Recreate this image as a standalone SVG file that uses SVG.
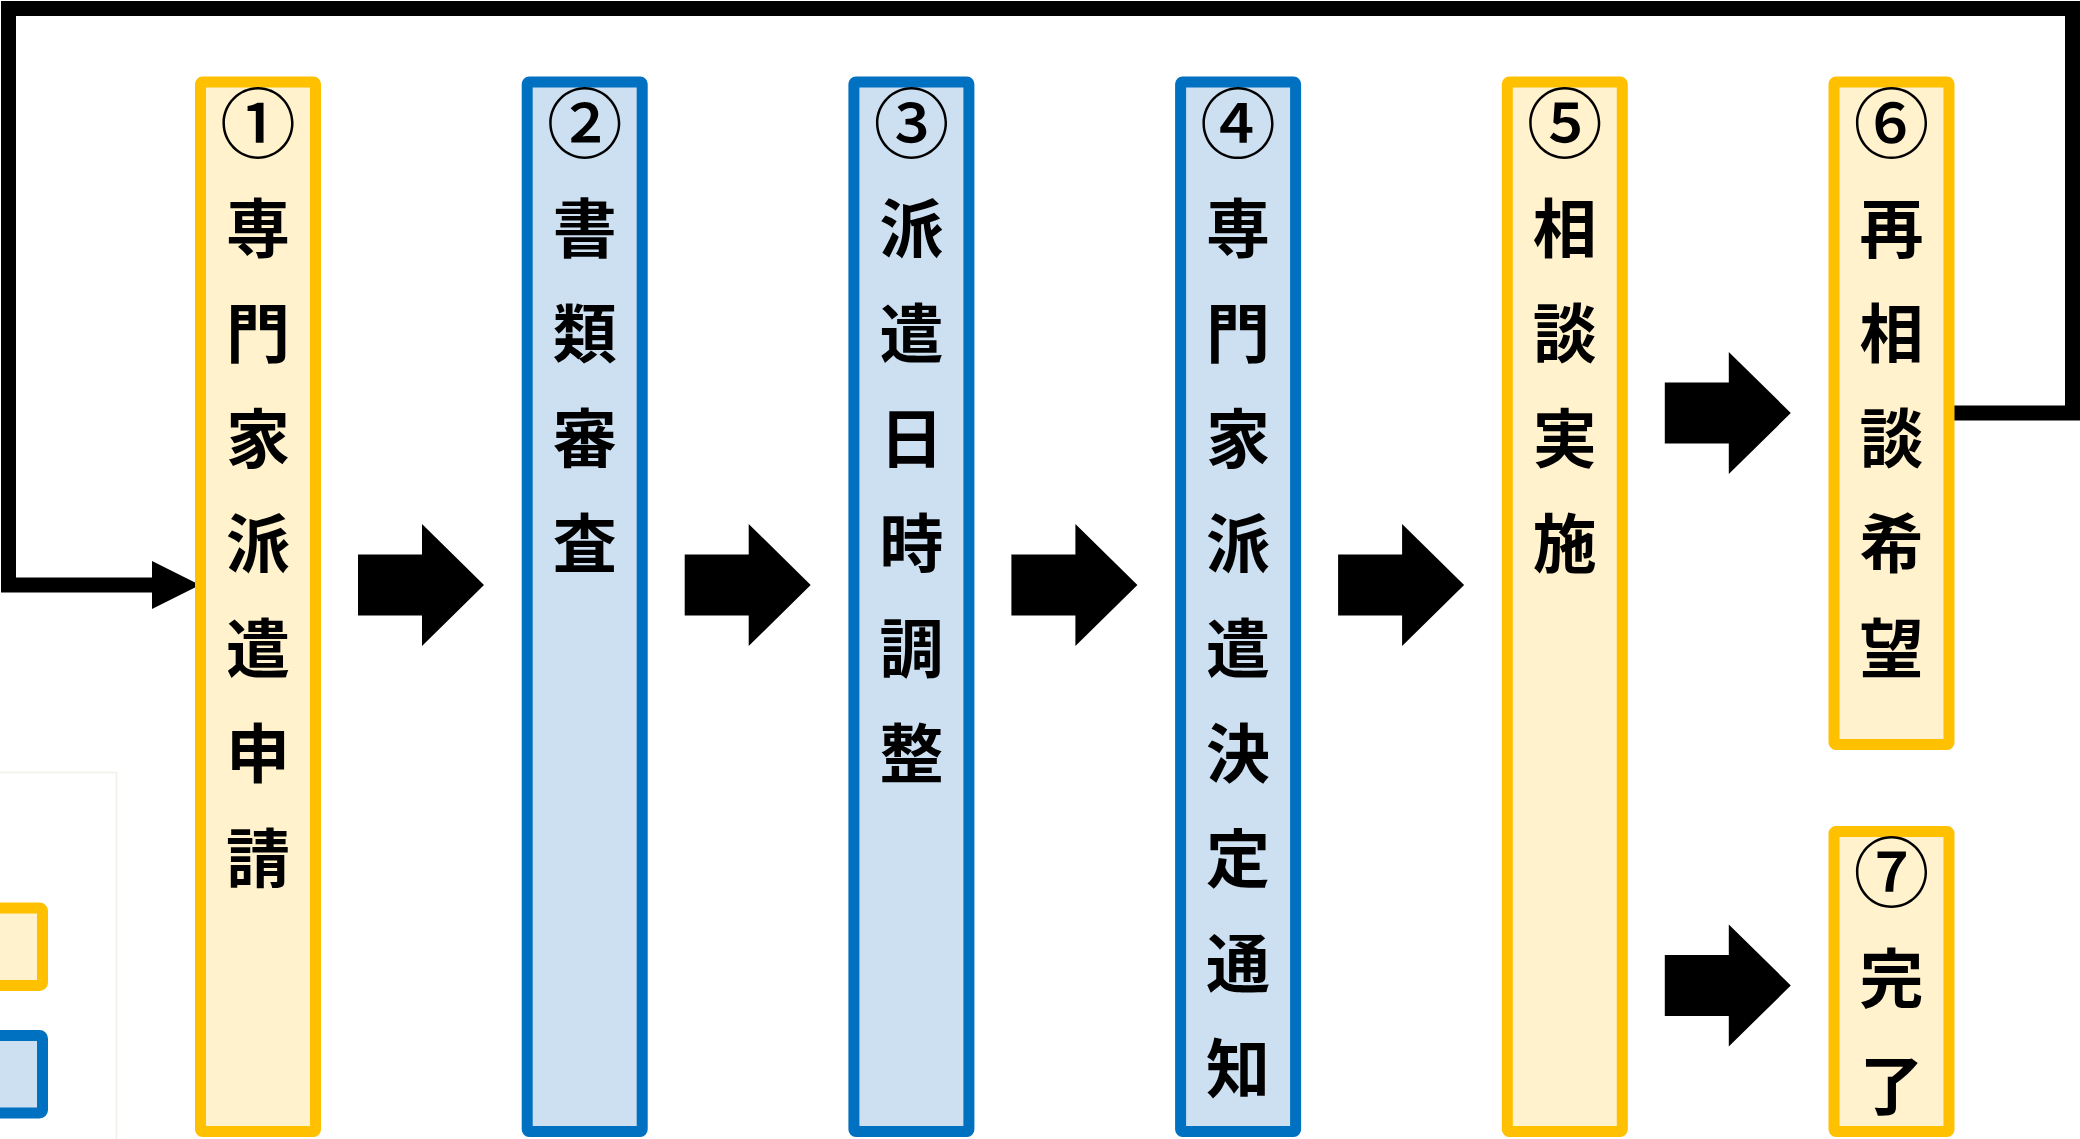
<svg xmlns="http://www.w3.org/2000/svg" xmlns:xlink="http://www.w3.org/1999/xlink" width="2080" height="1139" viewBox="0 0 2080 1139">
<style>
.y{fill:#FFF2CC;stroke:#FFC000;stroke-width:11;stroke-linejoin:round}
.b{fill:#CCE0F2;stroke:#0070C0;stroke-width:11;stroke-linejoin:round}
.t{font-family:"Noto Sans CJK JP","Noto Sans CJK SC",sans-serif;font-weight:700;font-size:64px;fill:#000;text-anchor:middle}
.c{font-family:"Noto Sans CJK JP","Noto Sans CJK SC",sans-serif;font-weight:500;font-size:76px;fill:#000;text-anchor:middle}
.ar{fill:#000}
</style>
<defs>
<polygon id="blk" points="0,-30.5 64,-30.5 64,-61 126,0 64,61 64,30.5 0,30.5"/>
</defs>
<rect width="2080" height="1139" fill="#fff"/>
<g id="legend">
<rect x="-10" y="772.5" width="126.5" height="380" fill="none" stroke="#EEF3EA" stroke-width="1.5"/>
<rect class="y" x="-30" y="908" width="72.5" height="77.5" rx="3"/>
<rect class="b" x="-30" y="1035.5" width="72.5" height="77.5" rx="3"/>
</g>
<g id="connectors">
<path d="M1949 413 H2072.5 V8.5 H8.5 V585 H160" fill="none" stroke="#000" stroke-width="15" stroke-linejoin="miter"/>
<polygon class="ar" points="152,561 200,585 152,609"/>
<use xlink:href="#blk" href="#blk" x="358" y="585" class="ar"/>
<use xlink:href="#blk" href="#blk" x="684.7" y="585" class="ar"/>
<use xlink:href="#blk" href="#blk" x="1011.4" y="585" class="ar"/>
<use xlink:href="#blk" href="#blk" x="1338.1" y="585" class="ar"/>
<use xlink:href="#blk" href="#blk" x="1664.8" y="413" class="ar"/>
<use xlink:href="#blk" href="#blk" x="1664.8" y="985.5" class="ar"/>
</g>
<g id="n1">
<rect class="y" x="200.5" y="82" width="115" height="1049.5" rx="2"/>
<text class="c" x="258" y="151.5">①</text>
<text class="t" x="258" y="252.3">専<tspan x="258" dy="105">門</tspan><tspan x="258" dy="105">家</tspan><tspan x="258" dy="105">派</tspan><tspan x="258" dy="105">遣</tspan><tspan x="258" dy="105">申</tspan><tspan x="258" dy="105">請</tspan></text>
</g>
<g id="n2">
<rect class="b" x="527.2" y="82" width="115" height="1049.5" rx="2"/>
<text class="c" x="584.7" y="151.5">②</text>
<text class="t" x="584.7" y="252.3">書<tspan x="584.7" dy="105">類</tspan><tspan x="584.7" dy="105">審</tspan><tspan x="584.7" dy="105">査</tspan></text>
</g>
<g id="n3">
<rect class="b" x="853.9" y="82" width="115" height="1049.5" rx="2"/>
<text class="c" x="911.4" y="151.5">③</text>
<text class="t" x="911.4" y="252.3">派<tspan x="911.4" dy="105">遣</tspan><tspan x="911.4" dy="105">日</tspan><tspan x="911.4" dy="105">時</tspan><tspan x="911.4" dy="105">調</tspan><tspan x="911.4" dy="105">整</tspan></text>
</g>
<g id="n4">
<rect class="b" x="1180.6" y="82" width="115" height="1049.5" rx="2"/>
<text class="c" x="1238.1" y="151.5">④</text>
<text class="t" x="1238.1" y="252.3">専<tspan x="1238.1" dy="105">門</tspan><tspan x="1238.1" dy="105">家</tspan><tspan x="1238.1" dy="105">派</tspan><tspan x="1238.1" dy="105">遣</tspan><tspan x="1238.1" dy="105">決</tspan><tspan x="1238.1" dy="105">定</tspan><tspan x="1238.1" dy="105">通</tspan><tspan x="1238.1" dy="105">知</tspan></text>
</g>
<g id="n5">
<rect class="y" x="1507.3" y="82" width="115" height="1049.5" rx="2"/>
<text class="c" x="1564.8" y="151.5">⑤</text>
<text class="t" x="1564.8" y="252.3">相<tspan x="1564.8" dy="105">談</tspan><tspan x="1564.8" dy="105">実</tspan><tspan x="1564.8" dy="105">施</tspan></text>
</g>
<g id="n6">
<rect class="y" x="1834" y="82" width="115" height="662.5" rx="2"/>
<text class="c" x="1891.5" y="151.5">⑥</text>
<text class="t" x="1891.5" y="252.3">再<tspan x="1891.5" dy="105">相</tspan><tspan x="1891.5" dy="105">談</tspan><tspan x="1891.5" dy="105">希</tspan><tspan x="1891.5" dy="105">望</tspan></text>
</g>
<g id="n7">
<rect class="y" x="1834" y="831.5" width="115" height="300" rx="2"/>
<text class="c" x="1891.5" y="900.5">⑦</text>
<text class="t" x="1891.5" y="1002.3">完<tspan x="1891.5" dy="107">了</tspan></text>
</g>
</svg>
